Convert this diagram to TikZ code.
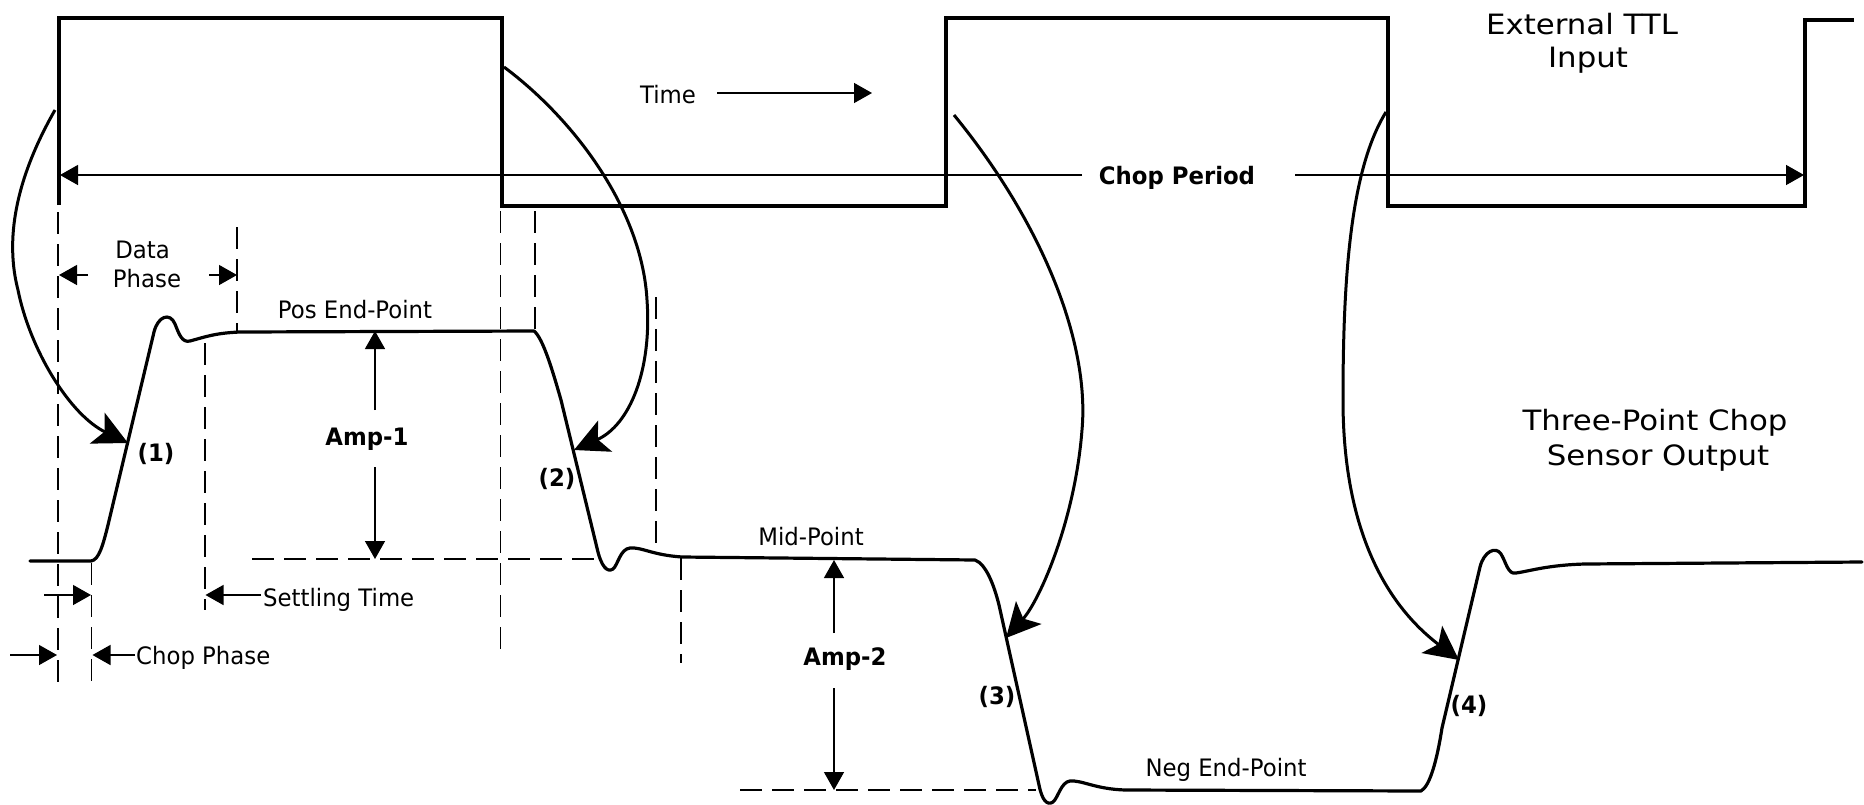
\documentclass[tikz,border=0pt]{standalone}
\usepackage{fontspec}
\usetikzlibrary{arrows.meta}
\newfontfamily\lblfont{DejaVu Sans}[FakeStretch=0.95]
\newfontfamily\ttlfont{DejaVu Sans}[FakeStretch=1.1]
\begin{document}
\begin{tikzpicture}[x=1pt,y=-1pt,
  wave/.style={line width=3.4pt, line join=miter},
  sig/.style={line width=3.2pt, line join=round, line cap=round},
  curvarr/.style={line width=3pt, -{Stealth[length=34pt,width=34pt,inset=8pt]}},
  dimarr/.style={line width=1.4pt, -{Triangle[length=18pt,width=20pt]}},
  dashln/.style={line width=1.5pt, dash pattern=on 22pt off 10pt},
  lbl/.style={font=\lblfont\fontsize{24}{29}\selectfont, inner sep=0pt, text height=17.5pt, text depth=0pt},
  blbl/.style={font=\lblfont\bfseries\fontsize{24}{29}\selectfont, inner sep=0pt, text height=17.5pt, text depth=0pt},
  ttl/.style={font=\ttlfont\fontsize{28}{34}\selectfont, inner sep=0pt, text height=20.4pt, text depth=0pt}]
\useasboundingbox (0,0) rectangle (1864,804);

% ---------- External TTL square wave ----------
\draw[wave] (59,205) -- (59,18) -- (502,18) -- (502,206) -- (946,206) -- (946,18)
  -- (1388,18) -- (1388,206) -- (1805,206) -- (1805,20) -- (1854,20);

% ---------- sensor output signal ----------
\draw[sig] (30,561) -- (91,561)
 .. controls (99,560) and (103,545) .. (108,525)
 -- (154,332)
 .. controls (158,316) and (170,312) .. (175,324)
 .. controls (179,334) and (182,343) .. (190,341)
 .. controls (205,337) and (215,333) .. (240,332)
 -- (534,331)
 .. controls (543,338) and (553,372) .. (561,400)
 -- (597,548)
 .. controls (601,566) and (607,573) .. (613,569)
 .. controls (618,565) and (620,549) .. (630,548)
 .. controls (642,547) and (652,555) .. (682,557)
 -- (975,560)
 .. controls (986,564) and (994,585) .. (999,605)
 -- (1039,785)
 .. controls (1042,800) and (1047,806) .. (1053,802)
 .. controls (1058,798) and (1061,782) .. (1070,781)
 .. controls (1082,780) and (1095,789) .. (1125,790)
 -- (1421,791)
 .. controls (1430,786) and (1437,760) .. (1442,728)
 -- (1480,567)
 .. controls (1484,551) and (1496,546) .. (1501,554)
 .. controls (1506,562) and (1508,575) .. (1516,573)
 .. controls (1530,571) and (1548,565) .. (1585,564)
 -- (1862,562);

% ---------- dashed guide lines ----------
\draw[dashln] (58,212) -- (58,690);
\draw[dashln] (91.5,563) -- (91.5,690);
\draw[dashln] (237,227) -- (237,333);
\draw[dashln] (205,343) -- (205,610);
\draw[dashln] (500.5,211) -- (500.5,655);
\draw[dashln] (535,211) -- (535,331);
\draw[dashln] (656,297) -- (656,552);
\draw[dashln] (681,558) -- (681,663);
\draw[dashln] (252,559) -- (594,559);
\draw[dashln] (740,790) -- (1036,790);

% ---------- text labels ----------
\node[lbl]  (time)  at (668,95)  {Time};
\node[blbl] (cp)    at (1177,176) {Chop Period};
\node[ttl]  (ttl1)  at (1582,24) {External TTL};
\node[ttl]  (ttl2)  at (1588,57) {Input};
\node[ttl]  (tp1)   at (1655,420) {Three-Point Chop};
\node[ttl]  (tp2)   at (1658,455) {Sensor Output};
\node[lbl]  (data)  at (142.5,250) {Data};
\node[lbl]  (phase) at (147,279) {Phase};
\node[lbl]  (pos)   at (355,310) {Pos End-Point};
\node[lbl]  (mid)   at (811,537) {Mid-Point};
\node[lbl]  (neg)   at (1226,768) {Neg End-Point};
\node[blbl] (amp1)  at (367,437) {Amp-1};
\node[blbl] (amp2)  at (845,657) {Amp-2};
\node[blbl] (p1)    at (156,453) {(1)};
\node[blbl] (p2)    at (557,478) {(2)};
\node[blbl] (p3)    at (997,696) {(3)};
\node[blbl] (p4)    at (1469,705) {(4)};
\node[lbl, anchor=west] (settle) at (263,598) {Settling Time};
\node[lbl, anchor=west] (chopph) at (136,656) {Chop Phase};

% ---------- named end points ----------
\coordinate (timeA) at (717,93);   \coordinate (timeB) at (872,93);
\coordinate (cpLa) at (1082,175);  \coordinate (cpLb) at (60,175);
\coordinate (cpRa) at (1295,175);  \coordinate (cpRb) at (1804,175);
\coordinate (dpLa) at (88,275);    \coordinate (dpLb) at (59,275);
\coordinate (dpRa) at (209,275);   \coordinate (dpRb) at (237,275);
\coordinate (stA) at (261,595);    \coordinate (stB) at (205.5,595);
\coordinate (chA) at (44,595);     \coordinate (chB) at (91,595);
\coordinate (cbLa) at (10,655);    \coordinate (cbLb) at (57,655);
\coordinate (cbRa) at (135,655);   \coordinate (cbRb) at (92.5,655);
\coordinate (a1u) at (375,410);    \coordinate (a1top) at (375,331);
\coordinate (a1d) at (375,467);    \coordinate (a1bot) at (375,559);
\coordinate (a2u) at (834,633);    \coordinate (a2top) at (834,560);
\coordinate (a2d) at (834,688);    \coordinate (a2bot) at (834,790);

% ---------- dimension arrows ----------
\draw[dimarr] (timeA) -- (timeB);
\draw[dimarr] (cpLa) -- (cpLb);
\draw[dimarr] (cpRa) -- (cpRb);
\draw[dimarr] (dpLa) -- (dpLb);
\draw[dimarr] (dpRa) -- (dpRb);
\draw[dimarr] (stA) -- (stB);
\draw[dimarr] (chA) -- (chB);
\draw[dimarr] (cbLa) -- (cbLb);
\draw[dimarr] (cbRa) -- (cbRb);
\draw[dimarr] (a1u) -- (a1top);
\draw[dimarr] (a1d) -- (a1bot);
\draw[dimarr] (a2u) -- (a2top);
\draw[dimarr] (a2d) -- (a2bot);

% ---------- curved arrows from TTL edges ----------
\coordinate (c1s) at (55,110);   \coordinate (c1e) at (128,443);
\coordinate (c2s) at (504,67);   \coordinate (c2e) at (574,450);
\coordinate (c3s) at (954,115);  \coordinate (c3e) at (1006,638);
\coordinate (c4s) at (1386,112); \coordinate (c4e) at (1459,660);
\draw[curvarr] (c1s) .. controls (15,180) and (5,240) .. (18,290)
   .. controls (30,350) and (70,415) .. (c1e);
\draw[curvarr] (c2s) .. controls (575,120) and (642,210) .. (647,300)
   .. controls (652,370) and (630,425) .. (c2e);
\draw[curvarr] (c3s) .. controls (1040,220) and (1090,340) .. (1082,430)
   .. controls (1075,520) and (1040,600) .. (c3e);
\draw[curvarr] (c4s) .. controls (1350,170) and (1343,280) .. (1343,400)
   .. controls (1343,520) and (1380,600) .. (c4e);
\end{tikzpicture}
\end{document}
